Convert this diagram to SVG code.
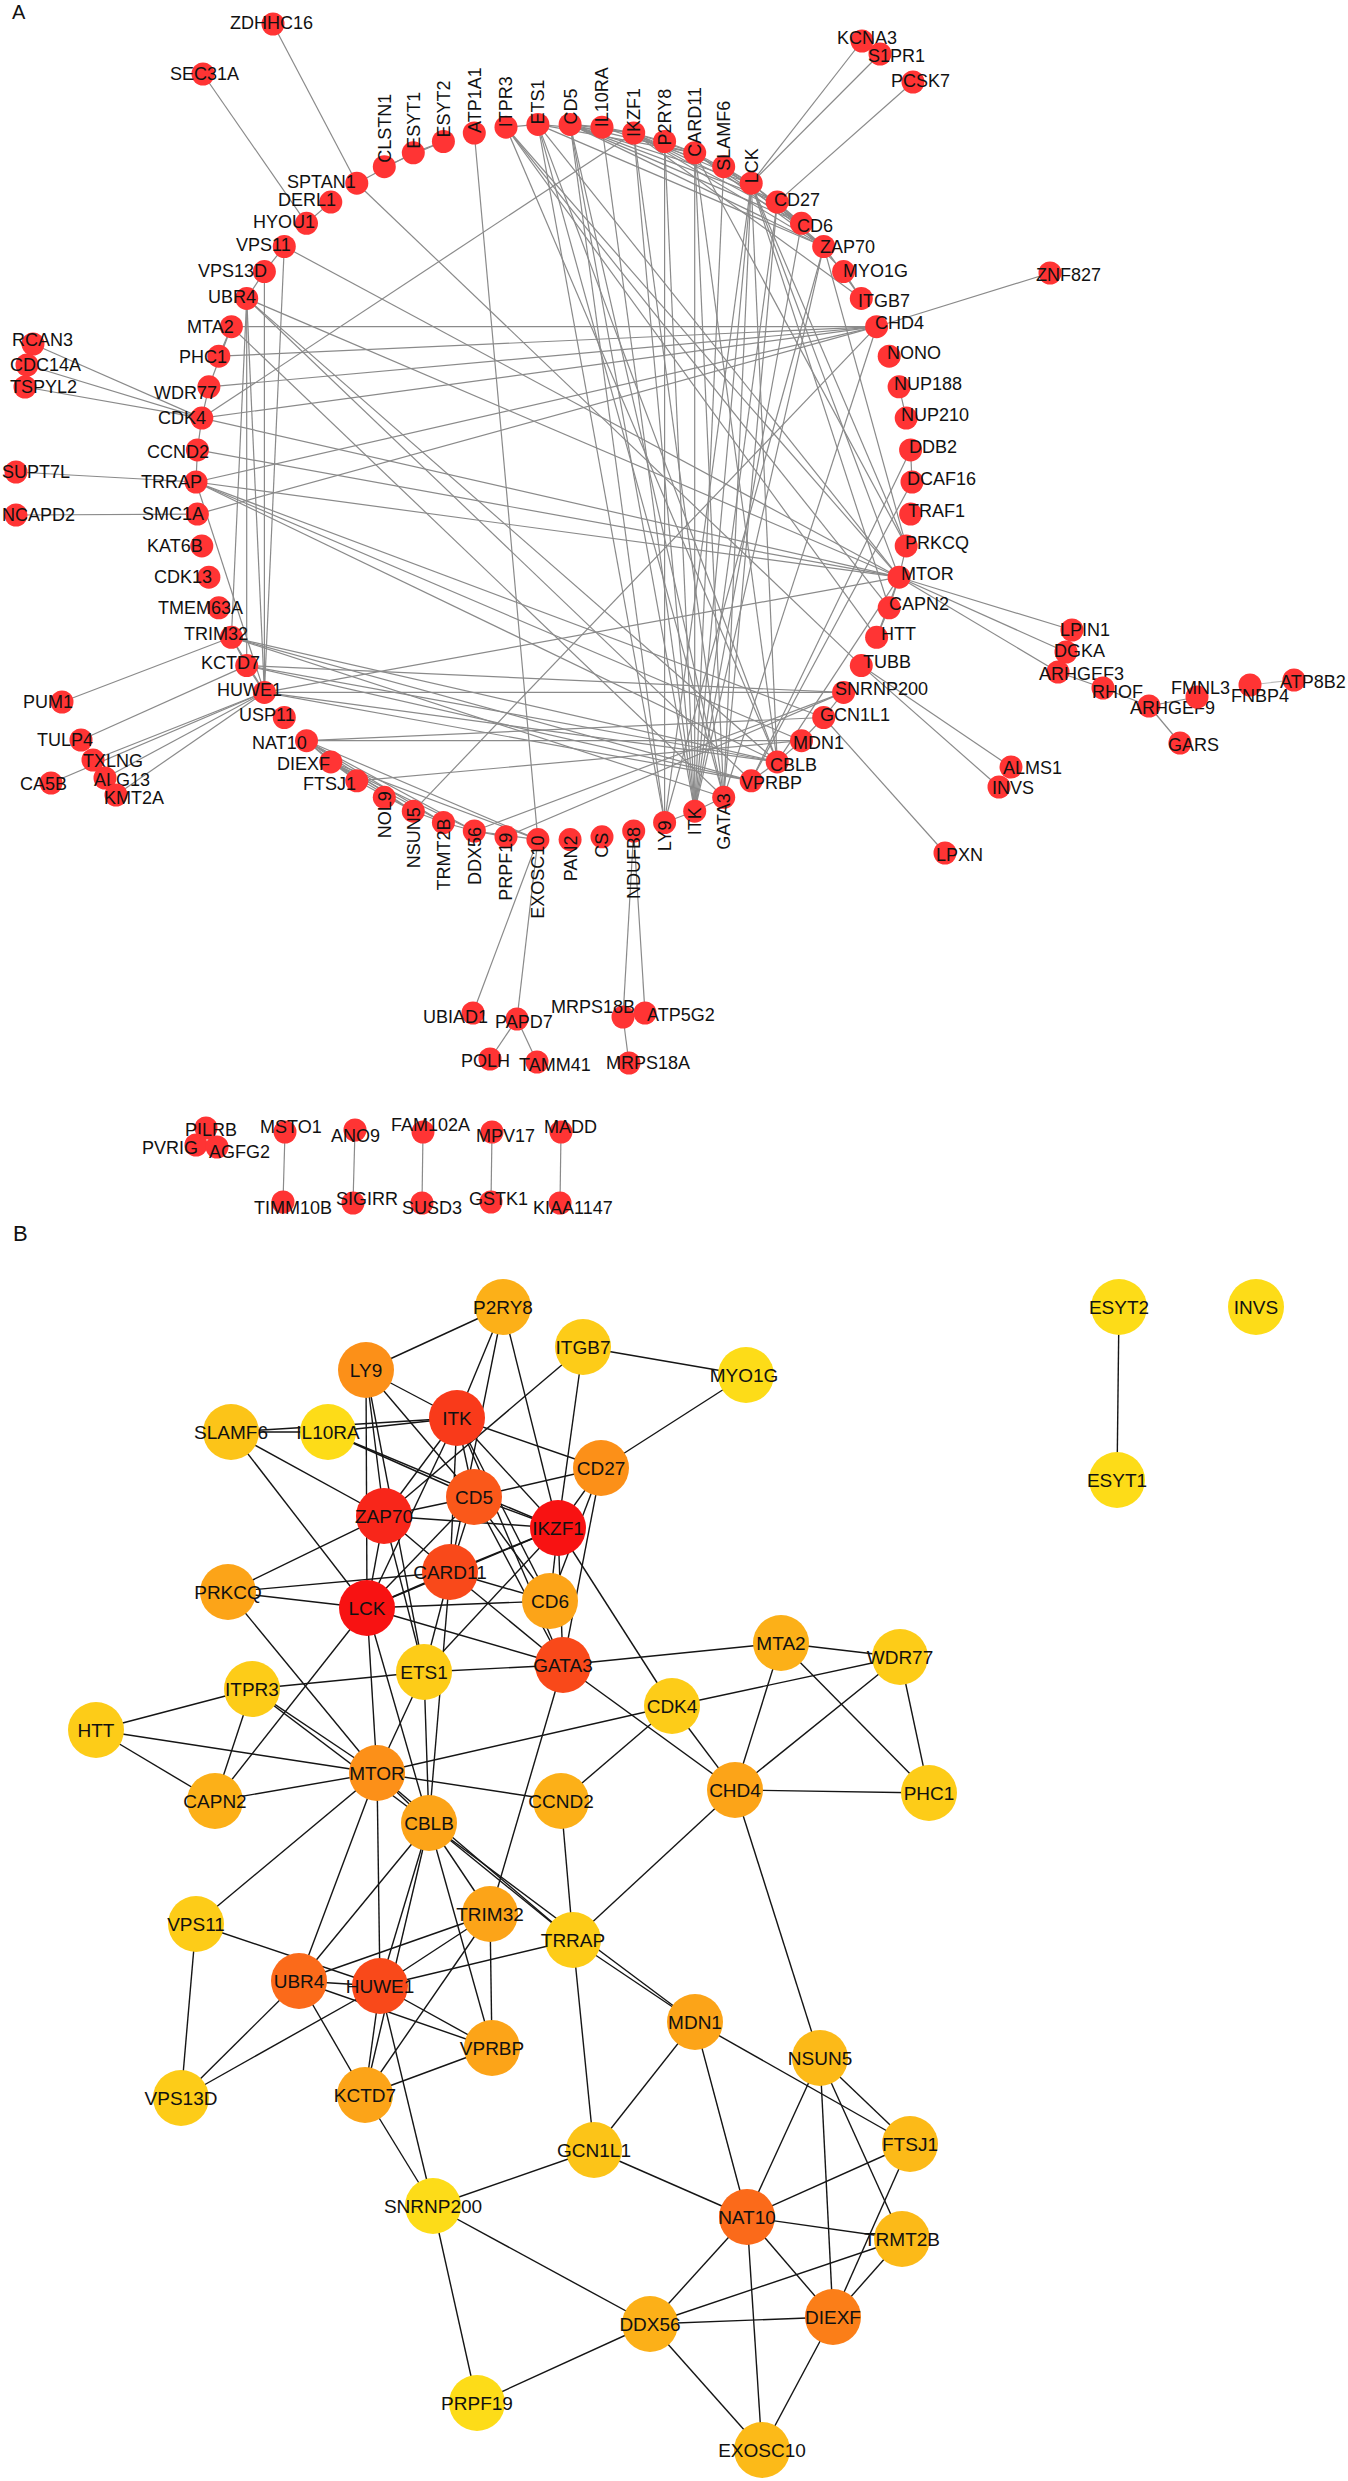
<svg xmlns="http://www.w3.org/2000/svg" width="1348" height="2481" viewBox="0 0 1348 2481">
<style>
.ea line{stroke:#8a8a8a;stroke-width:1.2}
.eb line{stroke:#151515;stroke-width:1.4}
.na{fill:#FF3434}
text{font-family:"Liberation Sans",Arial,sans-serif;fill:#111}
.la{font-size:18px}
.lve{font-size:18px;text-anchor:end}
.lb{font-size:19px;text-anchor:middle}
.pl{font-size:20px}
.r1{fill:#F81212}.r2{fill:#F8261A}.r3{fill:#F93A1A}.r4{fill:#F9491A}.r5{fill:#FA581A}.r6{fill:#FB6A1A}.r7{fill:#FB7E18}
.o1{fill:#FC9018}.o2{fill:#FCA418}.o3{fill:#FCB018}.o4{fill:#FCBA18}
.y1{fill:#FCC418}.y2{fill:#FDCC18}.y3{fill:#FDDC18}
</style>
<rect width="1348" height="2481" fill="#fff"/>
<text class="pl" x="12" y="19">A</text>
<text class="pl" x="13" y="1241" style="font-size:22px">B</text>

<g id="connectors-a" class="ea">
<line x1="664.6" y1="141.5" x2="664.6" y2="822.5"/>
<line x1="664.6" y1="141.5" x2="694.7" y2="811.2"/>
<line x1="664.6" y1="141.5" x2="694.7" y2="152.8"/>
<line x1="664.6" y1="141.5" x2="633.7" y2="133"/>
<line x1="861.3" y1="298.4" x2="843.6" y2="271.6"/>
<line x1="861.3" y1="298.4" x2="823.7" y2="246.5"/>
<line x1="861.3" y1="298.4" x2="633.7" y2="133"/>
<line x1="664.6" y1="822.5" x2="694.7" y2="811.2"/>
<line x1="664.6" y1="822.5" x2="823.7" y2="246.5"/>
<line x1="664.6" y1="822.5" x2="751.2" y2="183.2"/>
<line x1="664.6" y1="822.5" x2="570.1" y2="124.4"/>
<line x1="664.6" y1="822.5" x2="537.9" y2="124.4"/>
<line x1="723.7" y1="166.7" x2="602" y2="127.2"/>
<line x1="723.7" y1="166.7" x2="694.7" y2="811.2"/>
<line x1="723.7" y1="166.7" x2="823.7" y2="246.5"/>
<line x1="723.7" y1="166.7" x2="751.2" y2="183.2"/>
<line x1="602" y1="127.2" x2="694.7" y2="811.2"/>
<line x1="602" y1="127.2" x2="570.1" y2="124.4"/>
<line x1="602" y1="127.2" x2="633.7" y2="133"/>
<line x1="694.7" y1="811.2" x2="777.2" y2="202.1"/>
<line x1="694.7" y1="811.2" x2="570.1" y2="124.4"/>
<line x1="694.7" y1="811.2" x2="823.7" y2="246.5"/>
<line x1="694.7" y1="811.2" x2="751.2" y2="183.2"/>
<line x1="694.7" y1="811.2" x2="694.7" y2="152.8"/>
<line x1="694.7" y1="811.2" x2="633.7" y2="133"/>
<line x1="694.7" y1="811.2" x2="801.5" y2="223.3"/>
<line x1="694.7" y1="811.2" x2="723.7" y2="797.3"/>
<line x1="777.2" y1="202.1" x2="570.1" y2="124.4"/>
<line x1="777.2" y1="202.1" x2="843.6" y2="271.6"/>
<line x1="777.2" y1="202.1" x2="633.7" y2="133"/>
<line x1="777.2" y1="202.1" x2="801.5" y2="223.3"/>
<line x1="777.2" y1="202.1" x2="723.7" y2="797.3"/>
<line x1="570.1" y1="124.4" x2="823.7" y2="246.5"/>
<line x1="570.1" y1="124.4" x2="633.7" y2="133"/>
<line x1="570.1" y1="124.4" x2="694.7" y2="152.8"/>
<line x1="570.1" y1="124.4" x2="751.2" y2="183.2"/>
<line x1="570.1" y1="124.4" x2="801.5" y2="223.3"/>
<line x1="570.1" y1="124.4" x2="723.7" y2="797.3"/>
<line x1="823.7" y1="246.5" x2="633.7" y2="133"/>
<line x1="823.7" y1="246.5" x2="694.7" y2="152.8"/>
<line x1="823.7" y1="246.5" x2="751.2" y2="183.2"/>
<line x1="823.7" y1="246.5" x2="906.2" y2="545.9"/>
<line x1="823.7" y1="246.5" x2="537.9" y2="124.4"/>
<line x1="633.7" y1="133" x2="694.7" y2="152.8"/>
<line x1="633.7" y1="133" x2="751.2" y2="183.2"/>
<line x1="633.7" y1="133" x2="801.5" y2="223.3"/>
<line x1="633.7" y1="133" x2="537.9" y2="124.4"/>
<line x1="633.7" y1="133" x2="201.8" y2="418.1"/>
<line x1="633.7" y1="133" x2="723.7" y2="797.3"/>
<line x1="694.7" y1="152.8" x2="906.2" y2="545.9"/>
<line x1="694.7" y1="152.8" x2="751.2" y2="183.2"/>
<line x1="694.7" y1="152.8" x2="801.5" y2="223.3"/>
<line x1="694.7" y1="152.8" x2="723.7" y2="797.3"/>
<line x1="694.7" y1="152.8" x2="537.9" y2="124.4"/>
<line x1="694.7" y1="152.8" x2="777.2" y2="761.9"/>
<line x1="751.2" y1="183.2" x2="906.2" y2="545.9"/>
<line x1="751.2" y1="183.2" x2="801.5" y2="223.3"/>
<line x1="751.2" y1="183.2" x2="723.7" y2="797.3"/>
<line x1="751.2" y1="183.2" x2="899.1" y2="577.2"/>
<line x1="751.2" y1="183.2" x2="777.2" y2="761.9"/>
<line x1="751.2" y1="183.2" x2="889.2" y2="607.8"/>
<line x1="906.2" y1="545.9" x2="899.1" y2="577.2"/>
<line x1="537.9" y1="124.4" x2="506" y2="127.2"/>
<line x1="537.9" y1="124.4" x2="723.7" y2="797.3"/>
<line x1="537.9" y1="124.4" x2="899.1" y2="577.2"/>
<line x1="537.9" y1="124.4" x2="777.2" y2="761.9"/>
<line x1="723.7" y1="797.3" x2="231.4" y2="326.7"/>
<line x1="723.7" y1="797.3" x2="876.6" y2="326.7"/>
<line x1="723.7" y1="797.3" x2="231.4" y2="637.3"/>
<line x1="506" y1="127.2" x2="876.6" y2="637.3"/>
<line x1="506" y1="127.2" x2="889.2" y2="607.8"/>
<line x1="506" y1="127.2" x2="899.1" y2="577.2"/>
<line x1="506" y1="127.2" x2="777.2" y2="761.9"/>
<line x1="876.6" y1="637.3" x2="899.1" y2="577.2"/>
<line x1="876.6" y1="637.3" x2="889.2" y2="607.8"/>
<line x1="889.2" y1="607.8" x2="899.1" y2="577.2"/>
<line x1="899.1" y1="577.2" x2="201.8" y2="418.1"/>
<line x1="899.1" y1="577.2" x2="197.4" y2="449.9"/>
<line x1="899.1" y1="577.2" x2="777.2" y2="761.9"/>
<line x1="899.1" y1="577.2" x2="284.3" y2="246.5"/>
<line x1="899.1" y1="577.2" x2="246.7" y2="298.4"/>
<line x1="899.1" y1="577.2" x2="264.4" y2="692.4"/>
<line x1="899.1" y1="577.2" x2="196" y2="482"/>
<line x1="777.2" y1="761.9" x2="246.7" y2="298.4"/>
<line x1="777.2" y1="761.9" x2="264.4" y2="692.4"/>
<line x1="777.2" y1="761.9" x2="246.7" y2="665.6"/>
<line x1="777.2" y1="761.9" x2="231.4" y2="637.3"/>
<line x1="777.2" y1="761.9" x2="751.2" y2="780.8"/>
<line x1="777.2" y1="761.9" x2="196" y2="482"/>
<line x1="777.2" y1="761.9" x2="801.5" y2="740.7"/>
<line x1="246.7" y1="298.4" x2="264.4" y2="692.4"/>
<line x1="246.7" y1="298.4" x2="264.4" y2="271.6"/>
<line x1="246.7" y1="298.4" x2="246.7" y2="665.6"/>
<line x1="246.7" y1="298.4" x2="231.4" y2="637.3"/>
<line x1="246.7" y1="298.4" x2="751.2" y2="780.8"/>
<line x1="284.3" y1="246.5" x2="264.4" y2="271.6"/>
<line x1="284.3" y1="246.5" x2="264.4" y2="692.4"/>
<line x1="264.4" y1="692.4" x2="264.4" y2="271.6"/>
<line x1="264.4" y1="692.4" x2="231.4" y2="637.3"/>
<line x1="264.4" y1="692.4" x2="196" y2="482"/>
<line x1="264.4" y1="692.4" x2="751.2" y2="780.8"/>
<line x1="264.4" y1="692.4" x2="246.7" y2="665.6"/>
<line x1="264.4" y1="692.4" x2="843.6" y2="692.4"/>
<line x1="231.4" y1="637.3" x2="751.2" y2="780.8"/>
<line x1="231.4" y1="637.3" x2="246.7" y2="665.6"/>
<line x1="751.2" y1="780.8" x2="246.7" y2="665.6"/>
<line x1="246.7" y1="665.6" x2="843.6" y2="692.4"/>
<line x1="196" y1="482" x2="823.7" y2="717.5"/>
<line x1="196" y1="482" x2="197.4" y2="449.9"/>
<line x1="196" y1="482" x2="876.6" y2="326.7"/>
<line x1="196" y1="482" x2="801.5" y2="740.7"/>
<line x1="801.5" y1="740.7" x2="823.7" y2="717.5"/>
<line x1="801.5" y1="740.7" x2="306.5" y2="740.7"/>
<line x1="801.5" y1="740.7" x2="356.8" y2="780.8"/>
<line x1="823.7" y1="717.5" x2="843.6" y2="692.4"/>
<line x1="823.7" y1="717.5" x2="306.5" y2="740.7"/>
<line x1="843.6" y1="692.4" x2="474.3" y2="831"/>
<line x1="843.6" y1="692.4" x2="506" y2="836.8"/>
<line x1="474.3" y1="831" x2="506" y2="836.8"/>
<line x1="474.3" y1="831" x2="306.5" y2="740.7"/>
<line x1="474.3" y1="831" x2="443.4" y2="822.5"/>
<line x1="474.3" y1="831" x2="330.8" y2="761.9"/>
<line x1="474.3" y1="831" x2="537.9" y2="839.6"/>
<line x1="306.5" y1="740.7" x2="413.3" y2="811.2"/>
<line x1="306.5" y1="740.7" x2="356.8" y2="780.8"/>
<line x1="306.5" y1="740.7" x2="443.4" y2="822.5"/>
<line x1="306.5" y1="740.7" x2="330.8" y2="761.9"/>
<line x1="306.5" y1="740.7" x2="537.9" y2="839.6"/>
<line x1="413.3" y1="811.2" x2="876.6" y2="326.7"/>
<line x1="413.3" y1="811.2" x2="356.8" y2="780.8"/>
<line x1="413.3" y1="811.2" x2="443.4" y2="822.5"/>
<line x1="413.3" y1="811.2" x2="330.8" y2="761.9"/>
<line x1="356.8" y1="780.8" x2="330.8" y2="761.9"/>
<line x1="443.4" y1="822.5" x2="330.8" y2="761.9"/>
<line x1="330.8" y1="761.9" x2="537.9" y2="839.6"/>
<line x1="876.6" y1="326.7" x2="231.4" y2="326.7"/>
<line x1="876.6" y1="326.7" x2="208.9" y2="386.8"/>
<line x1="876.6" y1="326.7" x2="218.8" y2="356.2"/>
<line x1="876.6" y1="326.7" x2="201.8" y2="418.1"/>
<line x1="231.4" y1="326.7" x2="208.9" y2="386.8"/>
<line x1="231.4" y1="326.7" x2="218.8" y2="356.2"/>
<line x1="208.9" y1="386.8" x2="201.8" y2="418.1"/>
<line x1="201.8" y1="418.1" x2="197.4" y2="449.9"/>
<line x1="356.8" y1="183.2" x2="861.3" y2="665.6"/>
<line x1="330.8" y1="202.1" x2="306.5" y2="223.3"/>
<line x1="356.8" y1="183.2" x2="413.3" y2="152.8"/>
<line x1="384.3" y1="166.7" x2="443.4" y2="141.5"/>
<line x1="413.3" y1="152.8" x2="443.4" y2="141.5"/>
<line x1="910.6" y1="449.9" x2="912" y2="482"/>
<line x1="910.6" y1="449.9" x2="751.2" y2="780.8"/>
<line x1="912" y1="482" x2="751.2" y2="780.8"/>
<line x1="899.1" y1="386.8" x2="906.2" y2="418.1"/>
<line x1="197.4" y1="514.1" x2="876.6" y2="326.7"/>
<line x1="474.3" y1="133" x2="537.9" y2="839.6"/>
<line x1="273" y1="24" x2="356.8" y2="183.2"/>
<line x1="203" y1="74" x2="306.5" y2="223.3"/>
<line x1="33" y1="344" x2="201.8" y2="418.1"/>
<line x1="27" y1="365" x2="201.8" y2="418.1"/>
<line x1="25" y1="387" x2="201.8" y2="418.1"/>
<line x1="16" y1="472" x2="196" y2="482"/>
<line x1="16" y1="515" x2="197.4" y2="514.1"/>
<line x1="62" y1="702" x2="231.4" y2="637.3"/>
<line x1="81" y1="740" x2="246.7" y2="665.6"/>
<line x1="93" y1="760" x2="264.4" y2="692.4"/>
<line x1="51" y1="783" x2="264.4" y2="692.4"/>
<line x1="105" y1="778" x2="264.4" y2="692.4"/>
<line x1="116" y1="795" x2="264.4" y2="692.4"/>
<line x1="862" y1="41" x2="751.2" y2="183.2"/>
<line x1="880" y1="54" x2="751.2" y2="183.2"/>
<line x1="913" y1="82" x2="777.2" y2="202.1"/>
<line x1="1050" y1="273" x2="876.6" y2="326.7"/>
<line x1="899.1" y1="577.2" x2="1072" y2="630"/>
<line x1="899.1" y1="577.2" x2="1066" y2="652"/>
<line x1="899.1" y1="577.2" x2="1058" y2="672"/>
<line x1="1058" y1="672" x2="1103" y2="688"/>
<line x1="1103" y1="688" x2="1149" y2="706"/>
<line x1="1149" y1="706" x2="1197" y2="697"/>
<line x1="1149" y1="706" x2="1180" y2="743"/>
<line x1="1250" y1="685" x2="1294" y2="680" style="stroke:#bbb"/>
<line x1="861.3" y1="665.6" x2="1011" y2="767"/>
<line x1="861.3" y1="665.6" x2="999" y2="787"/>
<line x1="823.7" y1="717.5" x2="945" y2="853"/>
<line x1="473" y1="1013" x2="537.9" y2="839.6"/>
<line x1="517" y1="1019" x2="537.9" y2="839.6"/>
<line x1="517" y1="1019" x2="490" y2="1059"/>
<line x1="517" y1="1019" x2="537" y2="1062"/>
<line x1="623" y1="1017" x2="633.7" y2="831"/>
<line x1="645" y1="1013" x2="633.7" y2="831"/>
<line x1="623" y1="1017" x2="629" y2="1063"/>
<line x1="285" y1="1132" x2="283" y2="1202"/>
<line x1="355" y1="1130" x2="353" y2="1203"/>
<line x1="423" y1="1132" x2="422" y2="1203"/>
<line x1="492" y1="1132" x2="491" y2="1202"/>
<line x1="561" y1="1132" x2="560" y2="1203"/>
</g>

<g id="nodes-a">
<g id="a-ATP1A1"><circle class="na" cx="474.3" cy="133" r="11.5"/><text class="la" transform="translate(474.3,133) rotate(-90)" x="0" y="6.4">ATP1A1</text></g>
<g id="a-ITPR3"><circle class="na" cx="506" cy="127.2" r="11.5"/><text class="la" transform="translate(506,127.2) rotate(-90)" x="0" y="6.4">ITPR3</text></g>
<g id="a-ETS1"><circle class="na" cx="537.9" cy="124.4" r="11.5"/><text class="la" transform="translate(537.9,124.4) rotate(-90)" x="0" y="6.4">ETS1</text></g>
<g id="a-CD5"><circle class="na" cx="570.1" cy="124.4" r="11.5"/><text class="la" transform="translate(570.1,124.4) rotate(-90)" x="0" y="6.4">CD5</text></g>
<g id="a-IL10RA"><circle class="na" cx="602" cy="127.2" r="11.5"/><text class="la" transform="translate(602,127.2) rotate(-90)" x="0" y="6.4">IL10RA</text></g>
<g id="a-IKZF1"><circle class="na" cx="633.7" cy="133" r="11.5"/><text class="la" transform="translate(633.7,133) rotate(-90)" x="-4" y="6.4">IKZF1</text></g>
<g id="a-P2RY8"><circle class="na" cx="664.6" cy="141.5" r="11.5"/><text class="la" transform="translate(664.6,141.5) rotate(-90)" x="-4" y="6.4">P2RY8</text></g>
<g id="a-CARD11"><circle class="na" cx="694.7" cy="152.8" r="11.5"/><text class="la" transform="translate(694.7,152.8) rotate(-90)" x="-4" y="6.4">CARD11</text></g>
<g id="a-SLAMF6"><circle class="na" cx="723.7" cy="166.7" r="11.5"/><text class="la" transform="translate(723.7,166.7) rotate(-90)" x="-4" y="6.4">SLAMF6</text></g>
<g id="a-LCK"><circle class="na" cx="751.2" cy="183.2" r="11.5"/><text class="la" transform="translate(751.2,183.2) rotate(-90)" x="0" y="6.4">LCK</text></g>
<g id="a-CD27"><circle class="na" cx="777.2" cy="202.1" r="11.5"/><text class="la" x="774" y="206">CD27</text></g>
<g id="a-CD6"><circle class="na" cx="801.5" cy="223.3" r="11.5"/><text class="la" x="797" y="232">CD6</text></g>
<g id="a-ZAP70"><circle class="na" cx="823.7" cy="246.5" r="11.5"/><text class="la" x="820" y="253">ZAP70</text></g>
<g id="a-MYO1G"><circle class="na" cx="843.6" cy="271.6" r="11.5"/><text class="la" x="843" y="277">MYO1G</text></g>
<g id="a-ITGB7"><circle class="na" cx="861.3" cy="298.4" r="11.5"/><text class="la" x="858" y="307">ITGB7</text></g>
<g id="a-CHD4"><circle class="na" cx="876.6" cy="326.7" r="11.5"/><text class="la" x="875" y="329">CHD4</text></g>
<g id="a-NONO"><circle class="na" cx="889.2" cy="356.2" r="11.5"/><text class="la" x="887" y="359">NONO</text></g>
<g id="a-NUP188"><circle class="na" cx="899.1" cy="386.8" r="11.5"/><text class="la" x="894" y="390">NUP188</text></g>
<g id="a-NUP210"><circle class="na" cx="906.2" cy="418.1" r="11.5"/><text class="la" x="901" y="421">NUP210</text></g>
<g id="a-DDB2"><circle class="na" cx="910.6" cy="449.9" r="11.5"/><text class="la" x="909" y="453">DDB2</text></g>
<g id="a-DCAF16"><circle class="na" cx="912" cy="482" r="11.5"/><text class="la" x="907" y="485">DCAF16</text></g>
<g id="a-TRAF1"><circle class="na" cx="910.6" cy="514.1" r="11.5"/><text class="la" x="908" y="517">TRAF1</text></g>
<g id="a-PRKCQ"><circle class="na" cx="906.2" cy="545.9" r="11.5"/><text class="la" x="905" y="549">PRKCQ</text></g>
<g id="a-MTOR"><circle class="na" cx="899.1" cy="577.2" r="11.5"/><text class="la" x="901" y="580">MTOR</text></g>
<g id="a-CAPN2"><circle class="na" cx="889.2" cy="607.8" r="11.5"/><text class="la" x="889" y="610">CAPN2</text></g>
<g id="a-HTT"><circle class="na" cx="876.6" cy="637.3" r="11.5"/><text class="la" x="881" y="640">HTT</text></g>
<g id="a-TUBB"><circle class="na" cx="861.3" cy="665.6" r="11.5"/><text class="la" x="863" y="668">TUBB</text></g>
<g id="a-SNRNP200"><circle class="na" cx="843.6" cy="692.4" r="11.5"/><text class="la" x="835" y="695">SNRNP200</text></g>
<g id="a-GCN1L1"><circle class="na" cx="823.7" cy="717.5" r="11.5"/><text class="la" x="820" y="721">GCN1L1</text></g>
<g id="a-MDN1"><circle class="na" cx="801.5" cy="740.7" r="11.5"/><text class="la" x="793" y="749">MDN1</text></g>
<g id="a-CBLB"><circle class="na" cx="777.2" cy="761.9" r="11.5"/><text class="la" x="770" y="771">CBLB</text></g>
<g id="a-VPRBP"><circle class="na" cx="751.2" cy="780.8" r="11.5"/><text class="la" x="741" y="789">VPRBP</text></g>
<g id="a-GATA3"><circle class="na" cx="723.7" cy="797.3" r="11.5"/><text class="lve" transform="translate(723.7,797.3) rotate(-90)" x="4" y="6.4">GATA3</text></g>
<g id="a-ITK"><circle class="na" cx="694.7" cy="811.2" r="11.5"/><text class="lve" transform="translate(694.7,811.2) rotate(-90)" x="4" y="6.4">ITK</text></g>
<g id="a-LY9"><circle class="na" cx="664.6" cy="822.5" r="11.5"/><text class="lve" transform="translate(664.6,822.5) rotate(-90)" x="2" y="6.4">LY9</text></g>
<g id="a-NDUFB8"><circle class="na" cx="633.7" cy="831" r="11.5"/><text class="lve" transform="translate(633.7,831) rotate(-90)" x="4" y="6.4">NDUFB8</text></g>
<g id="a-CS"><circle class="na" cx="602" cy="836.8" r="11.5"/><text class="lve" transform="translate(602,836.8) rotate(-90)" x="4" y="6.4">CS</text></g>
<g id="a-PAN2"><circle class="na" cx="570.1" cy="839.6" r="11.5"/><text class="lve" transform="translate(570.1,839.6) rotate(-90)" x="4" y="6.4">PAN2</text></g>
<g id="a-EXOSC10"><circle class="na" cx="537.9" cy="839.6" r="11.5"/><text class="lve" transform="translate(537.9,839.6) rotate(-90)" x="4" y="6.4">EXOSC10</text></g>
<g id="a-PRPF19"><circle class="na" cx="506" cy="836.8" r="11.5"/><text class="lve" transform="translate(506,836.8) rotate(-90)" x="4" y="6.4">PRPF19</text></g>
<g id="a-DDX56"><circle class="na" cx="474.3" cy="831" r="11.5"/><text class="lve" transform="translate(474.3,831) rotate(-90)" x="4" y="6.4">DDX56</text></g>
<g id="a-TRMT2B"><circle class="na" cx="443.4" cy="822.5" r="11.5"/><text class="lve" transform="translate(443.4,822.5) rotate(-90)" x="4" y="6.4">TRMT2B</text></g>
<g id="a-NSUN5"><circle class="na" cx="413.3" cy="811.2" r="11.5"/><text class="lve" transform="translate(413.3,811.2) rotate(-90)" x="4" y="6.4">NSUN5</text></g>
<g id="a-NOL9"><circle class="na" cx="384.3" cy="797.3" r="11.5"/><text class="lve" transform="translate(384.3,797.3) rotate(-90)" x="6" y="6.4">NOL9</text></g>
<g id="a-FTSJ1"><circle class="na" cx="356.8" cy="780.8" r="11.5"/><text class="la" x="303" y="790">FTSJ1</text></g>
<g id="a-DIEXF"><circle class="na" cx="330.8" cy="761.9" r="11.5"/><text class="la" x="277" y="770">DIEXF</text></g>
<g id="a-NAT10"><circle class="na" cx="306.5" cy="740.7" r="11.5"/><text class="la" x="252" y="749">NAT10</text></g>
<g id="a-USP11"><circle class="na" cx="284.3" cy="717.5" r="11.5"/><text class="la" x="239" y="721">USP11</text></g>
<g id="a-HUWE1"><circle class="na" cx="264.4" cy="692.4" r="11.5"/><text class="la" x="217" y="696">HUWE1</text></g>
<g id="a-KCTD7"><circle class="na" cx="246.7" cy="665.6" r="11.5"/><text class="la" x="201" y="669">KCTD7</text></g>
<g id="a-TRIM32"><circle class="na" cx="231.4" cy="637.3" r="11.5"/><text class="la" x="184" y="640">TRIM32</text></g>
<g id="a-TMEM63A"><circle class="na" cx="218.8" cy="607.8" r="11.5"/><text class="la" x="158" y="614">TMEM63A</text></g>
<g id="a-CDK13"><circle class="na" cx="208.9" cy="577.2" r="11.5"/><text class="la" x="154" y="583">CDK13</text></g>
<g id="a-KAT6B"><circle class="na" cx="201.8" cy="545.9" r="11.5"/><text class="la" x="147" y="552">KAT6B</text></g>
<g id="a-SMC1A"><circle class="na" cx="197.4" cy="514.1" r="11.5"/><text class="la" x="142" y="520">SMC1A</text></g>
<g id="a-TRRAP"><circle class="na" cx="196" cy="482" r="11.5"/><text class="la" x="141" y="488">TRRAP</text></g>
<g id="a-CCND2"><circle class="na" cx="197.4" cy="449.9" r="11.5"/><text class="la" x="147" y="458">CCND2</text></g>
<g id="a-CDK4"><circle class="na" cx="201.8" cy="418.1" r="11.5"/><text class="la" x="158" y="424">CDK4</text></g>
<g id="a-WDR77"><circle class="na" cx="208.9" cy="386.8" r="11.5"/><text class="la" x="154" y="399">WDR77</text></g>
<g id="a-PHC1"><circle class="na" cx="218.8" cy="356.2" r="11.5"/><text class="la" x="179" y="363">PHC1</text></g>
<g id="a-MTA2"><circle class="na" cx="231.4" cy="326.7" r="11.5"/><text class="la" x="187" y="333">MTA2</text></g>
<g id="a-UBR4"><circle class="na" cx="246.7" cy="298.4" r="11.5"/><text class="la" x="208" y="303">UBR4</text></g>
<g id="a-VPS13D"><circle class="na" cx="264.4" cy="271.6" r="11.5"/><text class="la" x="198" y="277">VPS13D</text></g>
<g id="a-VPS11"><circle class="na" cx="284.3" cy="246.5" r="11.5"/><text class="la" x="236" y="251">VPS11</text></g>
<g id="a-HYOU1"><circle class="na" cx="306.5" cy="223.3" r="11.5"/><text class="la" x="253" y="228">HYOU1</text></g>
<g id="a-DERL1"><circle class="na" cx="330.8" cy="202.1" r="11.5"/><text class="la" x="278" y="206">DERL1</text></g>
<g id="a-SPTAN1"><circle class="na" cx="356.8" cy="183.2" r="11.5"/><text class="la" x="287" y="188">SPTAN1</text></g>
<g id="a-CLSTN1"><circle class="na" cx="384.3" cy="166.7" r="11.5"/><text class="la" transform="translate(384.3,166.7) rotate(-90)" x="4" y="6.4">CLSTN1</text></g>
<g id="a-ESYT1"><circle class="na" cx="413.3" cy="152.8" r="11.5"/><text class="la" transform="translate(413.3,152.8) rotate(-90)" x="4" y="6.4">ESYT1</text></g>
<g id="a-ESYT2"><circle class="na" cx="443.4" cy="141.5" r="11.5"/><text class="la" transform="translate(443.4,141.5) rotate(-90)" x="4" y="6.4">ESYT2</text></g>

<g id="a-ZDHHC16"><circle class="na" cx="273" cy="24" r="11.5"/><text class="la" x="230" y="29">ZDHHC16</text></g>
<g id="a-SEC31A"><circle class="na" cx="203" cy="74" r="11.5"/><text class="la" x="170" y="80">SEC31A</text></g>
<g id="a-RCAN3"><circle class="na" cx="33" cy="344" r="11.5"/><text class="la" x="12" y="346">RCAN3</text></g>
<g id="a-CDC14A"><circle class="na" cx="27" cy="365" r="11.5"/><text class="la" x="10" y="371">CDC14A</text></g>
<g id="a-TSPYL2"><circle class="na" cx="25" cy="387" r="11.5"/><text class="la" x="10" y="393">TSPYL2</text></g>
<g id="a-SUPT7L"><circle class="na" cx="16" cy="472" r="11.5"/><text class="la" x="2" y="478">SUPT7L</text></g>
<g id="a-NCAPD2"><circle class="na" cx="16" cy="515" r="11.5"/><text class="la" x="2" y="521">NCAPD2</text></g>
<g id="a-PUM1"><circle class="na" cx="62" cy="702" r="11.5"/><text class="la" x="23" y="708">PUM1</text></g>
<g id="a-TULP4"><circle class="na" cx="81" cy="740" r="11.5"/><text class="la" x="37" y="746">TULP4</text></g>
<g id="a-TXLNG"><circle class="na" cx="93" cy="760" r="11.5"/><text class="la" x="83" y="767">TXLNG</text></g>
<g id="a-CA5B"><circle class="na" cx="51" cy="783" r="11.5"/><text class="la" x="20" y="790">CA5B</text></g>
<g id="a-ALG13"><circle class="na" cx="105" cy="778" r="11.5"/><text class="la" x="94" y="786">ALG13</text></g>
<g id="a-KMT2A"><circle class="na" cx="116" cy="795" r="11.5"/><text class="la" x="104" y="804">KMT2A</text></g>
<g id="a-KCNA3"><circle class="na" cx="862" cy="41" r="11.5"/><text class="la" x="837" y="44">KCNA3</text></g>
<g id="a-S1PR1"><circle class="na" cx="880" cy="54" r="11.5"/><text class="la" x="868" y="62">S1PR1</text></g>
<g id="a-PCSK7"><circle class="na" cx="913" cy="82" r="11.5"/><text class="la" x="891" y="87">PCSK7</text></g>
<g id="a-ZNF827"><circle class="na" cx="1050" cy="273" r="11.5"/><text class="la" x="1036" y="281">ZNF827</text></g>
<g id="a-LPIN1"><circle class="na" cx="1072" cy="630" r="11.5"/><text class="la" x="1060" y="636">LPIN1</text></g>
<g id="a-DGKA"><circle class="na" cx="1066" cy="652" r="11.5"/><text class="la" x="1054" y="657">DGKA</text></g>
<g id="a-ARHGEF3"><circle class="na" cx="1058" cy="672" r="11.5"/><text class="la" x="1039" y="680">ARHGEF3</text></g>
<g id="a-RHOF"><circle class="na" cx="1103" cy="688" r="11.5"/><text class="la" x="1092" y="698">RHOF</text></g>
<g id="a-ARHGEF9"><circle class="na" cx="1149" cy="706" r="11.5"/><text class="la" x="1130" y="714">ARHGEF9</text></g>
<g id="a-FMNL3"><circle class="na" cx="1197" cy="697" r="11.5"/><text class="la" x="1171" y="694">FMNL3</text></g>
<g id="a-FNBP4"><circle class="na" cx="1250" cy="685" r="11.5"/><text class="la" x="1231" y="702">FNBP4</text></g>
<g id="a-ATP8B2"><circle class="na" cx="1294" cy="680" r="11.5"/><text class="la" x="1280" y="688">ATP8B2</text></g>
<g id="a-GARS"><circle class="na" cx="1180" cy="743" r="11.5"/><text class="la" x="1168" y="751">GARS</text></g>
<g id="a-ALMS1"><circle class="na" cx="1011" cy="767" r="11.5"/><text class="la" x="1003" y="774">ALMS1</text></g>
<g id="a-INVS"><circle class="na" cx="999" cy="787" r="11.5"/><text class="la" x="992" y="794">INVS</text></g>
<g id="a-LPXN"><circle class="na" cx="945" cy="853" r="11.5"/><text class="la" x="936" y="861">LPXN</text></g>
<g id="a-UBIAD1"><circle class="na" cx="473" cy="1013" r="11.5"/><text class="la" x="423" y="1023">UBIAD1</text></g>
<g id="a-PAPD7"><circle class="na" cx="517" cy="1019" r="11.5"/><text class="la" x="495" y="1028">PAPD7</text></g>
<g id="a-POLH"><circle class="na" cx="490" cy="1059" r="11.5"/><text class="la" x="461" y="1067">POLH</text></g>
<g id="a-TAMM41"><circle class="na" cx="537" cy="1062" r="11.5"/><text class="la" x="519" y="1071">TAMM41</text></g>
<g id="a-MRPS18B"><circle class="na" cx="623" cy="1017" r="11.5"/><text class="la" x="551" y="1013">MRPS18B</text></g>
<g id="a-ATP5G2"><circle class="na" cx="645" cy="1013" r="11.5"/><text class="la" x="647" y="1021">ATP5G2</text></g>
<g id="a-MRPS18A"><circle class="na" cx="629" cy="1063" r="11.5"/><text class="la" x="606" y="1069">MRPS18A</text></g>
<g id="a-PILRB"><circle class="na" cx="206" cy="1128" r="11.5"/><text class="la" x="185" y="1136">PILRB</text></g>
<g id="a-PVRIG"><circle class="na" cx="196" cy="1145" r="11.5"/><text class="la" x="142" y="1154">PVRIG</text></g>
<g id="a-AGFG2"><circle class="na" cx="217" cy="1147" r="11.5"/><text class="la" x="209" y="1158">AGFG2</text></g>
<g id="a-MSTO1"><circle class="na" cx="285" cy="1132" r="11.5"/><text class="la" x="260" y="1133">MSTO1</text></g>
<g id="a-TIMM10B"><circle class="na" cx="283" cy="1202" r="11.5"/><text class="la" x="254" y="1214">TIMM10B</text></g>
<g id="a-ANO9"><circle class="na" cx="355" cy="1130" r="11.5"/><text class="la" x="331" y="1142">ANO9</text></g>
<g id="a-SIGIRR"><circle class="na" cx="353" cy="1203" r="11.5"/><text class="la" x="336" y="1205">SIGIRR</text></g>
<g id="a-FAM102A"><circle class="na" cx="423" cy="1132" r="11.5"/><text class="la" x="391" y="1131">FAM102A</text></g>
<g id="a-SUSD3"><circle class="na" cx="422" cy="1203" r="11.5"/><text class="la" x="402" y="1214">SUSD3</text></g>
<g id="a-MPV17"><circle class="na" cx="492" cy="1132" r="11.5"/><text class="la" x="476" y="1142">MPV17</text></g>
<g id="a-GSTK1"><circle class="na" cx="491" cy="1202" r="11.5"/><text class="la" x="469" y="1205">GSTK1</text></g>
<g id="a-MADD"><circle class="na" cx="561" cy="1132" r="11.5"/><text class="la" x="544" y="1133">MADD</text></g>
<g id="a-KIAA1147"><circle class="na" cx="560" cy="1203" r="11.5"/><text class="la" x="533" y="1214">KIAA1147</text></g>
</g>

<g id="connectors-b" class="eb">
<line x1="503" y1="1307" x2="366" y2="1370"/>
<line x1="503" y1="1307" x2="457" y2="1418"/>
<line x1="503" y1="1307" x2="450" y2="1572"/>
<line x1="503" y1="1307" x2="558" y2="1528"/>
<line x1="583" y1="1347" x2="746" y2="1375"/>
<line x1="583" y1="1347" x2="384" y2="1516"/>
<line x1="583" y1="1347" x2="558" y2="1528"/>
<line x1="366" y1="1370" x2="457" y2="1418"/>
<line x1="366" y1="1370" x2="384" y2="1516"/>
<line x1="366" y1="1370" x2="367" y2="1608"/>
<line x1="366" y1="1370" x2="474" y2="1497"/>
<line x1="366" y1="1370" x2="424" y2="1672"/>
<line x1="231" y1="1432" x2="328" y2="1432"/>
<line x1="231" y1="1432" x2="457" y2="1418"/>
<line x1="231" y1="1432" x2="384" y2="1516"/>
<line x1="231" y1="1432" x2="367" y2="1608"/>
<line x1="328" y1="1432" x2="457" y2="1418"/>
<line x1="328" y1="1432" x2="474" y2="1497"/>
<line x1="328" y1="1432" x2="558" y2="1528"/>
<line x1="457" y1="1418" x2="601" y2="1468"/>
<line x1="457" y1="1418" x2="474" y2="1497"/>
<line x1="457" y1="1418" x2="384" y2="1516"/>
<line x1="457" y1="1418" x2="367" y2="1608"/>
<line x1="457" y1="1418" x2="450" y2="1572"/>
<line x1="457" y1="1418" x2="558" y2="1528"/>
<line x1="457" y1="1418" x2="550" y2="1601"/>
<line x1="457" y1="1418" x2="563" y2="1665"/>
<line x1="601" y1="1468" x2="474" y2="1497"/>
<line x1="601" y1="1468" x2="746" y2="1375"/>
<line x1="601" y1="1468" x2="558" y2="1528"/>
<line x1="601" y1="1468" x2="550" y2="1601"/>
<line x1="601" y1="1468" x2="563" y2="1665"/>
<line x1="474" y1="1497" x2="384" y2="1516"/>
<line x1="474" y1="1497" x2="558" y2="1528"/>
<line x1="474" y1="1497" x2="450" y2="1572"/>
<line x1="474" y1="1497" x2="367" y2="1608"/>
<line x1="474" y1="1497" x2="550" y2="1601"/>
<line x1="474" y1="1497" x2="563" y2="1665"/>
<line x1="384" y1="1516" x2="558" y2="1528"/>
<line x1="384" y1="1516" x2="450" y2="1572"/>
<line x1="384" y1="1516" x2="367" y2="1608"/>
<line x1="384" y1="1516" x2="228" y2="1592"/>
<line x1="384" y1="1516" x2="424" y2="1672"/>
<line x1="558" y1="1528" x2="450" y2="1572"/>
<line x1="558" y1="1528" x2="367" y2="1608"/>
<line x1="558" y1="1528" x2="550" y2="1601"/>
<line x1="558" y1="1528" x2="424" y2="1672"/>
<line x1="558" y1="1528" x2="672" y2="1706"/>
<line x1="558" y1="1528" x2="563" y2="1665"/>
<line x1="450" y1="1572" x2="228" y2="1592"/>
<line x1="450" y1="1572" x2="367" y2="1608"/>
<line x1="450" y1="1572" x2="550" y2="1601"/>
<line x1="450" y1="1572" x2="563" y2="1665"/>
<line x1="450" y1="1572" x2="424" y2="1672"/>
<line x1="450" y1="1572" x2="429" y2="1823"/>
<line x1="367" y1="1608" x2="228" y2="1592"/>
<line x1="367" y1="1608" x2="550" y2="1601"/>
<line x1="367" y1="1608" x2="563" y2="1665"/>
<line x1="367" y1="1608" x2="377" y2="1773"/>
<line x1="367" y1="1608" x2="429" y2="1823"/>
<line x1="367" y1="1608" x2="215" y2="1801"/>
<line x1="228" y1="1592" x2="377" y2="1773"/>
<line x1="424" y1="1672" x2="252" y2="1689"/>
<line x1="424" y1="1672" x2="563" y2="1665"/>
<line x1="424" y1="1672" x2="377" y2="1773"/>
<line x1="424" y1="1672" x2="429" y2="1823"/>
<line x1="563" y1="1665" x2="781" y2="1643"/>
<line x1="563" y1="1665" x2="735" y2="1790"/>
<line x1="563" y1="1665" x2="490" y2="1914"/>
<line x1="252" y1="1689" x2="96" y2="1730"/>
<line x1="252" y1="1689" x2="215" y2="1801"/>
<line x1="252" y1="1689" x2="377" y2="1773"/>
<line x1="252" y1="1689" x2="429" y2="1823"/>
<line x1="96" y1="1730" x2="377" y2="1773"/>
<line x1="96" y1="1730" x2="215" y2="1801"/>
<line x1="215" y1="1801" x2="377" y2="1773"/>
<line x1="377" y1="1773" x2="672" y2="1706"/>
<line x1="377" y1="1773" x2="561" y2="1801"/>
<line x1="377" y1="1773" x2="429" y2="1823"/>
<line x1="377" y1="1773" x2="196" y2="1924"/>
<line x1="377" y1="1773" x2="299" y2="1981"/>
<line x1="377" y1="1773" x2="380" y2="1986"/>
<line x1="377" y1="1773" x2="573" y2="1940"/>
<line x1="429" y1="1823" x2="299" y2="1981"/>
<line x1="429" y1="1823" x2="380" y2="1986"/>
<line x1="429" y1="1823" x2="365" y2="2095"/>
<line x1="429" y1="1823" x2="490" y2="1914"/>
<line x1="429" y1="1823" x2="492" y2="2048"/>
<line x1="429" y1="1823" x2="573" y2="1940"/>
<line x1="429" y1="1823" x2="695" y2="2022"/>
<line x1="299" y1="1981" x2="380" y2="1986"/>
<line x1="299" y1="1981" x2="181" y2="2098"/>
<line x1="299" y1="1981" x2="365" y2="2095"/>
<line x1="299" y1="1981" x2="490" y2="1914"/>
<line x1="299" y1="1981" x2="492" y2="2048"/>
<line x1="196" y1="1924" x2="181" y2="2098"/>
<line x1="196" y1="1924" x2="380" y2="1986"/>
<line x1="380" y1="1986" x2="181" y2="2098"/>
<line x1="380" y1="1986" x2="490" y2="1914"/>
<line x1="380" y1="1986" x2="573" y2="1940"/>
<line x1="380" y1="1986" x2="492" y2="2048"/>
<line x1="380" y1="1986" x2="365" y2="2095"/>
<line x1="380" y1="1986" x2="433" y2="2206"/>
<line x1="490" y1="1914" x2="492" y2="2048"/>
<line x1="490" y1="1914" x2="365" y2="2095"/>
<line x1="492" y1="2048" x2="365" y2="2095"/>
<line x1="365" y1="2095" x2="433" y2="2206"/>
<line x1="573" y1="1940" x2="594" y2="2150"/>
<line x1="573" y1="1940" x2="561" y2="1801"/>
<line x1="573" y1="1940" x2="735" y2="1790"/>
<line x1="573" y1="1940" x2="695" y2="2022"/>
<line x1="695" y1="2022" x2="594" y2="2150"/>
<line x1="695" y1="2022" x2="747" y2="2217"/>
<line x1="695" y1="2022" x2="910" y2="2144"/>
<line x1="594" y1="2150" x2="433" y2="2206"/>
<line x1="594" y1="2150" x2="747" y2="2217"/>
<line x1="433" y1="2206" x2="650" y2="2324"/>
<line x1="433" y1="2206" x2="477" y2="2403"/>
<line x1="650" y1="2324" x2="477" y2="2403"/>
<line x1="650" y1="2324" x2="747" y2="2217"/>
<line x1="650" y1="2324" x2="902" y2="2239"/>
<line x1="650" y1="2324" x2="833" y2="2317"/>
<line x1="650" y1="2324" x2="762" y2="2450"/>
<line x1="747" y1="2217" x2="820" y2="2058"/>
<line x1="747" y1="2217" x2="910" y2="2144"/>
<line x1="747" y1="2217" x2="902" y2="2239"/>
<line x1="747" y1="2217" x2="833" y2="2317"/>
<line x1="747" y1="2217" x2="762" y2="2450"/>
<line x1="820" y1="2058" x2="735" y2="1790"/>
<line x1="820" y1="2058" x2="910" y2="2144"/>
<line x1="820" y1="2058" x2="902" y2="2239"/>
<line x1="820" y1="2058" x2="833" y2="2317"/>
<line x1="910" y1="2144" x2="833" y2="2317"/>
<line x1="902" y1="2239" x2="833" y2="2317"/>
<line x1="833" y1="2317" x2="762" y2="2450"/>
<line x1="735" y1="1790" x2="781" y2="1643"/>
<line x1="735" y1="1790" x2="900" y2="1657"/>
<line x1="735" y1="1790" x2="929" y2="1793"/>
<line x1="735" y1="1790" x2="672" y2="1706"/>
<line x1="781" y1="1643" x2="900" y2="1657"/>
<line x1="781" y1="1643" x2="929" y2="1793"/>
<line x1="900" y1="1657" x2="672" y2="1706"/>
<line x1="900" y1="1657" x2="929" y2="1793"/>
<line x1="672" y1="1706" x2="561" y2="1801"/>
<line x1="1119" y1="1307" x2="1117" y2="1480"/>
</g>

<g id="nodes-b">
<g id="b-P2RY8"><circle class="o3" cx="503" cy="1307" r="28"/><text class="lb" x="503" y="1314">P2RY8</text></g>
<g id="b-ITGB7"><circle class="y2" cx="583" cy="1347" r="28"/><text class="lb" x="583" y="1354">ITGB7</text></g>
<g id="b-MYO1G"><circle class="y3" cx="746" cy="1375" r="28"/><text class="lb" x="744" y="1382">MYO1G</text></g>
<g id="b-LY9"><circle class="o1" cx="366" cy="1370" r="28"/><text class="lb" x="366" y="1377">LY9</text></g>
<g id="b-SLAMF6"><circle class="y1" cx="231" cy="1432" r="28"/><text class="lb" x="231" y="1439">SLAMF6</text></g>
<g id="b-IL10RA"><circle class="y3" cx="328" cy="1432" r="28"/><text class="lb" x="328" y="1439">IL10RA</text></g>
<g id="b-ITK"><circle class="r3" cx="457" cy="1418" r="28"/><text class="lb" x="457" y="1425">ITK</text></g>
<g id="b-CD27"><circle class="o1" cx="601" cy="1468" r="28"/><text class="lb" x="601" y="1475">CD27</text></g>
<g id="b-CD5"><circle class="r5" cx="474" cy="1497" r="28"/><text class="lb" x="474" y="1504">CD5</text></g>
<g id="b-ZAP70"><circle class="r2" cx="384" cy="1516" r="28"/><text class="lb" x="384" y="1523">ZAP70</text></g>
<g id="b-IKZF1"><circle class="r1" cx="558" cy="1528" r="28"/><text class="lb" x="558" y="1535">IKZF1</text></g>
<g id="b-CARD11"><circle class="r4" cx="450" cy="1572" r="28"/><text class="lb" x="450" y="1579">CARD11</text></g>
<g id="b-PRKCQ"><circle class="o2" cx="228" cy="1592" r="28"/><text class="lb" x="228" y="1599">PRKCQ</text></g>
<g id="b-LCK"><circle class="r1" cx="367" cy="1608" r="28"/><text class="lb" x="367" y="1615">LCK</text></g>
<g id="b-CD6"><circle class="o2" cx="550" cy="1601" r="28"/><text class="lb" x="550" y="1608">CD6</text></g>
<g id="b-ETS1"><circle class="y2" cx="424" cy="1672" r="28"/><text class="lb" x="424" y="1679">ETS1</text></g>
<g id="b-GATA3"><circle class="r4" cx="563" cy="1665" r="28"/><text class="lb" x="563" y="1672">GATA3</text></g>
<g id="b-ITPR3"><circle class="y2" cx="252" cy="1689" r="28"/><text class="lb" x="252" y="1696">ITPR3</text></g>
<g id="b-HTT"><circle class="y2" cx="96" cy="1730" r="28"/><text class="lb" x="96" y="1737">HTT</text></g>
<g id="b-CDK4"><circle class="y2" cx="672" cy="1706" r="28"/><text class="lb" x="672" y="1713">CDK4</text></g>
<g id="b-MTA2"><circle class="o3" cx="781" cy="1643" r="28"/><text class="lb" x="781" y="1650">MTA2</text></g>
<g id="b-WDR77"><circle class="y2" cx="900" cy="1657" r="28"/><text class="lb" x="900" y="1664">WDR77</text></g>
<g id="b-MTOR"><circle class="o1" cx="377" cy="1773" r="28"/><text class="lb" x="377" y="1780">MTOR</text></g>
<g id="b-CAPN2"><circle class="o3" cx="215" cy="1801" r="28"/><text class="lb" x="215" y="1808">CAPN2</text></g>
<g id="b-CCND2"><circle class="o3" cx="561" cy="1801" r="28"/><text class="lb" x="561" y="1808">CCND2</text></g>
<g id="b-CHD4"><circle class="o2" cx="735" cy="1790" r="28"/><text class="lb" x="735" y="1797">CHD4</text></g>
<g id="b-PHC1"><circle class="y2" cx="929" cy="1793" r="28"/><text class="lb" x="929" y="1800">PHC1</text></g>
<g id="b-CBLB"><circle class="o2" cx="429" cy="1823" r="28"/><text class="lb" x="429" y="1830">CBLB</text></g>
<g id="b-VPS11"><circle class="y2" cx="196" cy="1924" r="28"/><text class="lb" x="196" y="1931">VPS11</text></g>
<g id="b-TRIM32"><circle class="o2" cx="490" cy="1914" r="28"/><text class="lb" x="490" y="1921">TRIM32</text></g>
<g id="b-TRRAP"><circle class="y2" cx="573" cy="1940" r="28"/><text class="lb" x="573" y="1947">TRRAP</text></g>
<g id="b-UBR4"><circle class="r6" cx="299" cy="1981" r="28"/><text class="lb" x="299" y="1988">UBR4</text></g>
<g id="b-HUWE1"><circle class="r4" cx="380" cy="1986" r="28"/><text class="lb" x="380" y="1993">HUWE1</text></g>
<g id="b-MDN1"><circle class="o2" cx="695" cy="2022" r="28"/><text class="lb" x="695" y="2029">MDN1</text></g>
<g id="b-VPRBP"><circle class="o2" cx="492" cy="2048" r="28"/><text class="lb" x="492" y="2055">VPRBP</text></g>
<g id="b-NSUN5"><circle class="o4" cx="820" cy="2058" r="28"/><text class="lb" x="820" y="2065">NSUN5</text></g>
<g id="b-VPS13D"><circle class="y2" cx="181" cy="2098" r="28"/><text class="lb" x="181" y="2105">VPS13D</text></g>
<g id="b-KCTD7"><circle class="o2" cx="365" cy="2095" r="28"/><text class="lb" x="365" y="2102">KCTD7</text></g>
<g id="b-FTSJ1"><circle class="o4" cx="910" cy="2144" r="28"/><text class="lb" x="910" y="2151">FTSJ1</text></g>
<g id="b-GCN1L1"><circle class="y1" cx="594" cy="2150" r="28"/><text class="lb" x="594" y="2157">GCN1L1</text></g>
<g id="b-SNRNP200"><circle class="y3" cx="433" cy="2206" r="28"/><text class="lb" x="433" y="2213">SNRNP200</text></g>
<g id="b-NAT10"><circle class="r6" cx="747" cy="2217" r="28"/><text class="lb" x="747" y="2224">NAT10</text></g>
<g id="b-TRMT2B"><circle class="o4" cx="902" cy="2239" r="28"/><text class="lb" x="902" y="2246">TRMT2B</text></g>
<g id="b-DIEXF"><circle class="r7" cx="833" cy="2317" r="28"/><text class="lb" x="833" y="2324">DIEXF</text></g>
<g id="b-DDX56"><circle class="o3" cx="650" cy="2324" r="28"/><text class="lb" x="650" y="2331">DDX56</text></g>
<g id="b-PRPF19"><circle class="y3" cx="477" cy="2403" r="28"/><text class="lb" x="477" y="2410">PRPF19</text></g>
<g id="b-EXOSC10"><circle class="o4" cx="762" cy="2450" r="28"/><text class="lb" x="762" y="2457">EXOSC10</text></g>
<g id="b-ESYT2"><circle class="y3" cx="1119" cy="1307" r="28"/><text class="lb" x="1119" y="1314">ESYT2</text></g>
<g id="b-ESYT1"><circle class="y3" cx="1117" cy="1480" r="28"/><text class="lb" x="1117" y="1487">ESYT1</text></g>
<g id="b-INVS"><circle class="y3" cx="1256" cy="1307" r="28"/><text class="lb" x="1256" y="1314">INVS</text></g>
</g>
</svg>
